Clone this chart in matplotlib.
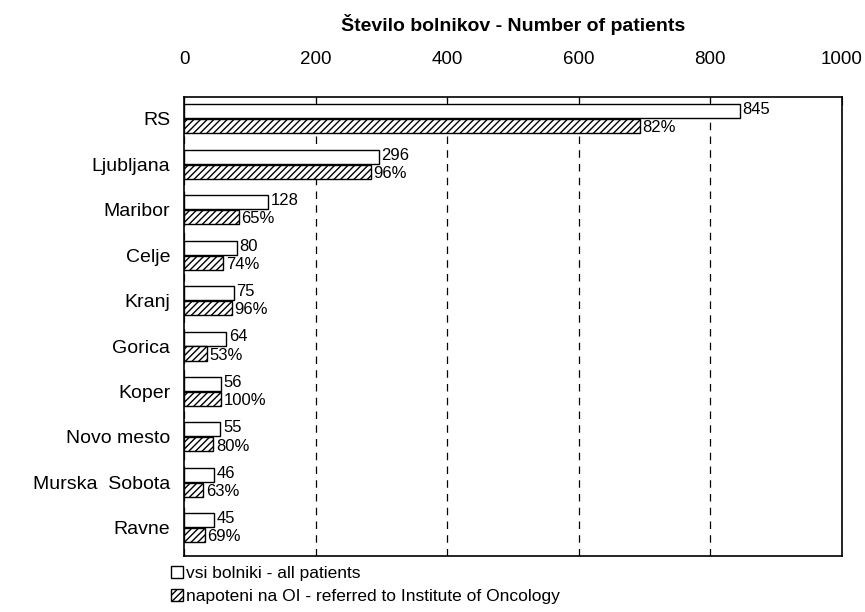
import numpy as np
import matplotlib.pyplot as plt

plt.rcParams['font.family'] = ['Liberation Sans', 'DejaVu Sans']
plt.rcParams['hatch.linewidth'] = 1.0

# Podatki
regije = ['RS', 'Ljubljana', 'Maribor', 'Celje', 'Kranj', 'Gorica',
          'Koper', 'Novo mesto', 'Murska  Sobota', 'Ravne']
vsi = [845, 296, 128, 80, 75, 64, 56, 55, 46, 45]
odstotek = [82, 96, 65, 74, 96, 53, 100, 80, 63, 69]
napoteni = [v * p / 100 for v, p in zip(vsi, odstotek)]

y = np.arange(len(regije))

fig = plt.figure(figsize=(8.65, 6.12), dpi=100)
ax = fig.add_axes([0.213, 0.0915, 0.76, 0.75])

ax.barh(y - 0.165, vsi, height=0.31, color='white', edgecolor='black',
        linewidth=1, label='vsi bolniki - all patients', zorder=3)
ax.barh(y + 0.165, napoteni, height=0.31, color='white', edgecolor='black',
        hatch='/////', linewidth=1,
        label='napoteni na OI - referred to Institute of Oncology', zorder=3)

for i in range(len(regije)):
    ax.text(vsi[i] + 4, y[i] - 0.2, str(vsi[i]), va='center', ha='left',
            fontsize=12)
    ax.text(napoteni[i] + 4, y[i] + 0.2, f'{odstotek[i]}%', va='center',
            ha='left', fontsize=12)

ax.set_xlim(0, 1000)
ax.set_ylim(9.62, -0.48)
ax.set_xticks([0, 200, 400, 600, 800, 1000])
ax.xaxis.tick_top()
ax.tick_params(axis='x', direction='in', length=6, pad=21, labelsize=13.5,
               top=True, bottom=False)
ax.set_yticks(y)
ax.set_yticklabels(regije, fontsize=14)
ax.tick_params(axis='y', length=0, pad=10)
ax.xaxis.grid(True, linestyle=(0, (6, 5)), color='black', linewidth=0.9)
ax.set_axisbelow(True)
for s in ax.spines.values():
    s.set_linewidth(1.2)

ax.set_title('Število bolnikov - Number of patients', fontsize=14,
             fontweight='bold', pad=14)

ax.legend(loc='upper left', bbox_to_anchor=(-0.028, -0.01), frameon=False,
          fontsize=12.5, handlelength=0.7, handleheight=0.7, handletextpad=0.15,
          labelspacing=0.45, borderpad=0.2, borderaxespad=0.1)

fig.savefig('out.png', dpi=100)
